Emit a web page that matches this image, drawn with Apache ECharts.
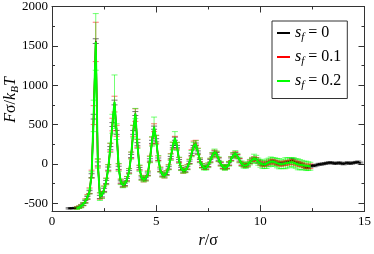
<!DOCTYPE html>
<html>
<head>
<meta charset="utf-8">
<script src="https://cdn.jsdelivr.net/npm/echarts@6/dist/echarts.min.js"></script>
<style>html,body{margin:0;padding:0;background:#fff}#c{width:374px;height:254px}</style>
</head>
<body>
<div id="c"></div>
<script>
// r / sigma grid of the s_f = 0 run (0.8 ... 14.8)
const rBlack = [
0.8,0.9,1.0,1.1,1.2,1.3,1.4,1.5,1.6,1.7,
1.8,1.9,2.0,2.1,2.2,2.3,2.4,2.5,2.6,2.7,
2.8,2.9,3.0,3.1,3.2,3.3,3.4,3.5,3.6,3.7,
3.8,3.9,4.0,4.1,4.2,4.3,4.4,4.5,4.6,4.7,
4.8,4.9,5.0,5.1,5.2,5.3,5.4,5.5,5.6,5.7,
5.8,5.9,6.0,6.1,6.2,6.3,6.4,6.5,6.6,6.7,
6.8,6.9,7.0,7.1,7.2,7.3,7.4,7.5,7.6,7.7,
7.8,7.9,8.0,8.1,8.2,8.3,8.4,8.5,8.6,8.7,
8.8,8.9,9.0,9.1,9.2,9.3,9.4,9.5,9.6,9.7,
9.8,9.9,10.0,10.1,10.2,10.3,10.4,10.5,10.6,10.7,
10.8,10.9,11.0,11.1,11.2,11.3,11.4,11.5,11.6,11.7,
11.8,11.9,12.0,12.1,12.2,12.3,12.4,12.5,12.6,12.7,
12.8,12.9,13.0,13.1,13.2,13.3,13.4,13.5,13.6,13.7,
13.8,13.9,14.0,14.1,14.2,14.3,14.4,14.5,14.6,14.7,
14.8];
const fBlack = [
-565,-565,-563,-560,-556,-548,-535,-515,-480,-430,
-360,-150,600,1560,0,-420,-400,-330,-230,-60,
200,500,780,400,-50,-230,-270,-260,-200,-100,
100,400,640,250,-60,-180,-200,-190,-130,50,
280,460,300,60,-80,-140,-150,-120,-50,80,
220,320,220,40,-60,-90,-85,-50,20,120,
220,250,150,40,-30,-50,-50,-20,40,110,
150,130,60,0,-40,-55,-40,0,60,110,
130,100,50,0,-20,-25,-10,20,50,70,
60,30,10,-5,-10,0,15,30,35,25,
10,5,0,5,15,20,30,45,40,20,
10,0,-10,-30,-45,-40,-30,-20,-25,-15,
-5,-5,0,5,10,15,15,10,5,10,
15,5,0,10,15,5,10,15,20,25,
10];
const eBlack = [
8,8,8,8,8,10,10,12,15,15,
20,25,30,30,25,20,20,20,20,20,
20,25,30,25,20,15,15,15,15,15,
20,25,25,20,15,15,15,15,15,15,
20,20,20,15,15,15,15,15,15,15,
15,20,15,15,15,15,15,15,15,15,
15,15,15,15,15,15,15,15,15,15,
15,15,15,15,15,15,15,15,15,15,
15,15,15,15,15,15,15,15,15,15,
15,15,15,15,15,15,15,15,15,15,
15,15,15,15,15,15,15,25,20,15,
15,15,15,15,15,15,12,12,12,12,
12,12,12,12,12,12,12,12,12,12,
12,12,12,12,12,12,12,12,12,12,
12];
// r / sigma grid of the s_f = 0.1 and 0.2 runs (1.2 ... 12.4)
const rSheared = [
1.2,1.3,1.4,1.5,1.6,1.7,1.8,1.9,2.0,2.1,
2.2,2.3,2.4,2.5,2.6,2.7,2.8,2.9,3.0,3.1,
3.2,3.3,3.4,3.5,3.6,3.7,3.8,3.9,4.0,4.1,
4.2,4.3,4.4,4.5,4.6,4.7,4.8,4.9,5.0,5.1,
5.2,5.3,5.4,5.5,5.6,5.7,5.8,5.9,6.0,6.1,
6.2,6.3,6.4,6.5,6.6,6.7,6.8,6.9,7.0,7.1,
7.2,7.3,7.4,7.5,7.6,7.7,7.8,7.9,8.0,8.1,
8.2,8.3,8.4,8.5,8.6,8.7,8.8,8.9,9.0,9.1,
9.2,9.3,9.4,9.5,9.6,9.7,9.8,9.9,10.0,10.1,
10.2,10.3,10.4,10.5,10.6,10.7,10.8,10.9,11.0,11.1,
11.2,11.3,11.4,11.5,11.6,11.7,11.8,11.9,12.0,12.1,
12.2,12.3,12.4];
const fRed = [
-560,-550,-535,-510,-470,-420,-340,-130,620,1550,
10,-410,-395,-320,-220,-50,210,500,760,420,
-40,-225,-270,-255,-190,-90,110,420,620,260,
-50,-175,-200,-185,-120,60,290,460,310,70,
-70,-135,-150,-115,-40,90,230,310,230,50,
-50,-90,-80,-40,30,140,240,270,160,50,
-20,-45,-45,-15,45,110,145,125,55,0,
-35,-50,-35,5,65,110,125,95,45,5,
-15,-20,-5,25,50,65,55,30,10,-5,
-5,5,20,30,30,20,10,5,0,5,
10,15,20,25,20,10,0,-5,-10,-20,
-30,-35,-30];
const eRed = [
15,15,20,20,25,30,35,50,120,250,
50,40,40,40,40,40,50,80,100,70,
40,30,30,30,30,30,40,70,80,50,
30,30,30,30,30,40,50,50,50,30,
30,30,30,30,30,40,45,40,40,30,
30,30,30,30,30,40,50,30,40,25,
25,25,25,25,25,30,30,30,25,25,
25,25,25,25,25,30,30,25,25,25,
25,25,25,25,25,25,25,25,30,30,
30,30,30,30,30,30,30,30,30,30,
30,30,30,30,30,30,30,30,30,30,
30,30,30];
const fGreen = [
-565,-552,-538,-512,-475,-425,-350,-140,610,1550,
5,-415,-398,-325,-225,-55,205,510,790,410,
-45,-228,-268,-258,-195,-95,105,410,640,255,
-55,-178,-198,-188,-125,55,285,470,305,65,
-75,-138,-148,-118,-45,85,225,330,225,45,
-55,-88,-82,-45,25,130,230,255,155,45,
-25,-48,-48,-18,42,110,148,128,58,2,
-38,-52,-38,2,62,110,128,98,48,2,
-18,-22,-8,22,48,68,58,28,8,-5,
-8,2,18,28,30,22,10,2,-5,0,
8,12,18,22,15,5,-5,-10,-15,-20,
-25,-28,-30];
const eGreen = [
15,15,20,20,25,25,30,40,200,360,
60,50,40,40,40,45,60,120,340,100,
50,35,35,35,35,35,45,80,65,60,
40,30,30,30,30,40,60,125,60,40,
30,30,30,30,30,40,50,80,50,40,
30,30,30,30,30,40,45,40,40,30,
30,30,30,30,30,35,40,35,30,30,
30,30,30,30,30,35,40,35,35,35,
35,35,35,35,35,55,50,45,50,55,
50,60,55,60,50,55,60,65,55,60,
70,65,60,55,65,60,70,65,60,55,
60,55,50];
const seriesNames = ['s_f = 0', 's_f = 0.1', 's_f = 0.2'];
const legendLabels = ['0', '0.1', '0.2'];
const yMajorTicks = [-500, 0, 500, 1000, 1500, 2000];
const yMinorTicks = [-250, 250, 750, 1250, 1750];

const colors = ['#000000', '#ff0000', '#00ff00'];
const SERIF = '"Liberation Serif","DejaVu Serif",serif';

function zip3(a, b, c) { return a.map((v, i) => [v, b[i], c[i]]); }
const sets = [
  zip3(rBlack, fBlack, eBlack),
  zip3(rSheared, fRed, eRed),
  zip3(rSheared, fGreen, eGreen)
];

function errRenderer(color) {
  return function (params, api) {
    const x = api.value(0), y = api.value(1), e = api.value(2);
    const hi = api.coord([x, y + e]);
    const lo = api.coord([x, y - e]);
    const hw = 3;
    const st = { stroke: color, lineWidth: 1, opacity: 0.55 };
    return {
      type: 'group',
      children: [
        { type: 'line', shape: { x1: hi[0], y1: hi[1], x2: lo[0], y2: lo[1] }, style: st },
        { type: 'line', shape: { x1: hi[0] - hw, y1: hi[1], x2: hi[0] + hw, y2: hi[1] }, style: st },
        { type: 'line', shape: { x1: lo[0] - hw, y1: lo[1], x2: lo[0] + hw, y2: lo[1] }, style: st }
      ]
    };
  };
}

const series = [];
sets.forEach((d, i) => {
  series.push({
    name: seriesNames[i], type: 'line', data: d.map(p => [p[0], p[1]]),
    symbol: 'none', showSymbol: false,
    lineStyle: { color: colors[i], width: i === 2 ? 2 : 1.5 },
    itemStyle: { color: colors[i] },
    xAxisIndex: 0, yAxisIndex: 0, z: 2 + i * 2
  });
  series.push({
    name: seriesNames[i] + ' err', type: 'custom', data: d,
    encode: { x: 0, y: 1 }, renderItem: errRenderer(colors[i]),
    xAxisIndex: 0, yAxisIndex: 0, z: 3 + i * 2, silent: true
  });
});

const axisLineStyle = { show: true, onZero: false, lineStyle: { color: '#333', width: 1 } };
function yAx(pos, vals, len, labels) {
  return {
    type: 'value', position: pos, min: -600, max: 2000,
    axisLine: axisLineStyle,
    axisTick: { show: true, inside: true, length: len, customValues: vals, lineStyle: { color: '#333' } },
    axisLabel: labels ? { show: true, customValues: vals, formatter: v => String(v), fontFamily: SERIF, fontSize: 13, color: '#000', margin: 4 } : { show: false },
    splitLine: { show: false }
  };
}
function xAx(pos, labels) {
  return {
    type: 'value', position: pos, min: 0, max: 15, interval: 5,
    axisLine: axisLineStyle,
    axisTick: { show: true, inside: true, length: 6, lineStyle: { color: '#333' } },
    minorTick: { show: true, splitNumber: 2, length: 3, lineStyle: { color: '#333' } },
    axisLabel: labels ? { show: true, formatter: v => String(v), fontFamily: SERIF, fontSize: 13, color: '#000', margin: 4 } : { show: false },
    splitLine: { show: false }, minorSplitLine: { show: false },
    name: labels ? '{i|r}{n|/σ}' : '', nameLocation: 'middle', nameGap: 18,
    nameTextStyle: { rich: { i: { fontFamily: SERIF, fontStyle: 'italic', fontSize: 16, color: '#000' }, n: { fontFamily: SERIF, fontSize: 16, color: '#000' } } }
  };
}

const option = {
  backgroundColor: '#fff',
  animation: false,
  grid: { left: 52, right: 6, top: 5, bottom: 29, containLabel: false },
  xAxis: [xAx('bottom', true), xAx('top', false)],
  yAxis: [yAx('left', yMajorTicks, 6, true), yAx('left', yMinorTicks, 3, false), yAx('right', yMajorTicks, 6, false), yAx('right', yMinorTicks, 3, false)],
  legend: {
    data: seriesNames.map((n, i) => ({ name: n, icon: 'rect', itemStyle: { color: colors[i] } })),
    orient: 'vertical', left: 272, top: 21,
    padding: [4, 6, 8, 5], itemGap: 6.5, itemWidth: 13, itemHeight: 2,
    borderColor: '#333', borderWidth: 1, backgroundColor: '#fff',
    selectedMode: false,
    formatter: function (name) {
      const k = seriesNames.indexOf(name);
      return '{i|s}{sub|f}{n| = ' + legendLabels[k] + '}';
    },
    textStyle: {
      padding: [0, 0, 0, 0],
      rich: {
        i: { fontFamily: SERIF, fontStyle: 'italic', fontSize: 16, color: '#000' },
        sub: { fontFamily: SERIF, fontStyle: 'italic', fontSize: 11, color: '#000', padding: [8, 0, 0, 0] },
        n: { fontFamily: SERIF, fontSize: 16, color: '#000' }
      }
    }
  },
  graphic: [{
    type: 'text', x: 11, y: 100, rotation: Math.PI / 2,
    style: {
      text: '{i|F}{n|σ/}{i|k}{s|B}{i|T}', align: 'center', verticalAlign: 'middle',
      rich: {
        i: { fontFamily: SERIF, fontStyle: 'italic', fontSize: 16, fill: '#000' },
        n: { fontFamily: SERIF, fontSize: 16, fill: '#000' },
        s: { fontFamily: SERIF, fontStyle: 'italic', fontSize: 11, fill: '#000', padding: [8, 0, 0, 0] }
      }
    }
  }],
  series: series
};
const chart = echarts.init(document.getElementById('c'), null, { renderer: 'canvas' });
chart.setOption(option);
</script>
</body>
</html>
